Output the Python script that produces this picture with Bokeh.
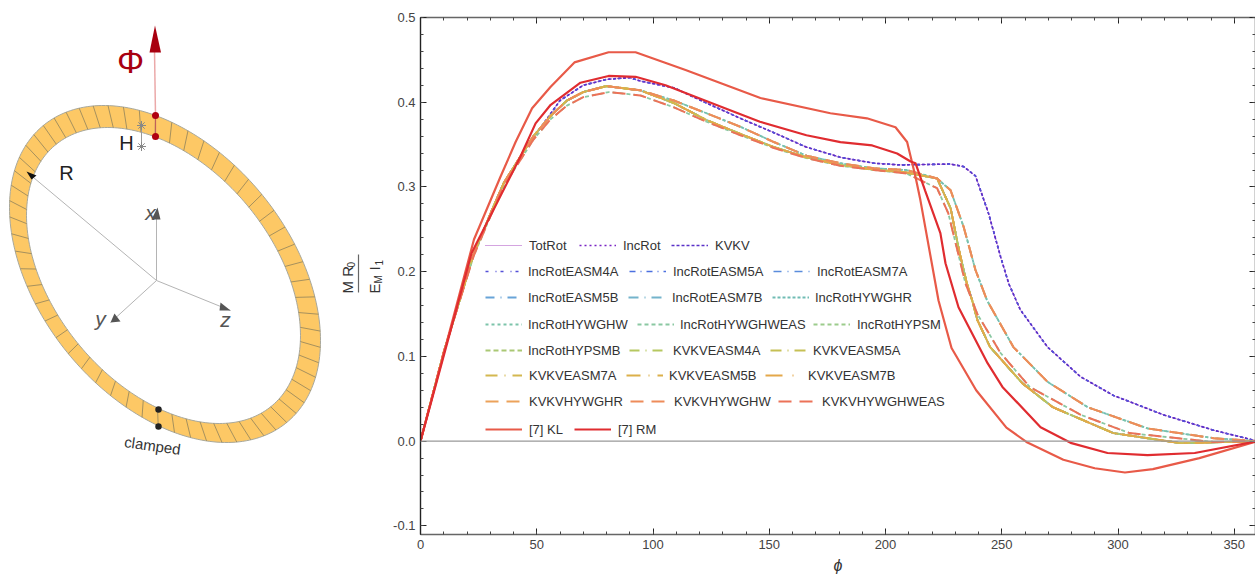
import numpy as np
from bokeh.plotting import figure
from bokeh.layouts import row
from bokeh.embed import file_html
from bokeh.resources import INLINE
from bokeh.core.properties import value
from bokeh.models import (Range1d, LinearAxis, FixedTicker, NumeralTickFormatter, Span,
                          Legend, LegendItem)

# ---------- curve values ----------
phi_a = [0, 10, 22.8, 30.8, 35.8, 43, 44.5, 53, 60, 70, 80, 90, 94.6, 109, 123, 137.6, 152, 166, 180.6, 195, 206.5, 228,
         233.6, 238.7, 244.3, 249.5, 253, 258, 269.7, 283.9, 298, 319.6, 341, 360]
val_a = [0, 0.105, 0.22, 0.273, 0.3046, 0.336, 0.343, 0.375, 0.402, 0.42, 0.427, 0.429, 0.425, 0.417, 0.399, 0.381,
         0.364, 0.347, 0.335, 0.328, 0.326, 0.327, 0.324, 0.313, 0.269, 0.2176, 0.186, 0.155, 0.111, 0.076, 0.054,
         0.031, 0.013, 0]

phi_c = [0, 10, 22.8, 30.8, 35.8, 43, 48.6, 56, 63, 70, 80, 94.6, 109, 123, 137.6, 152, 166, 180.6, 195, 209, 222.2,
         228, 233.6, 238.7, 243.7, 255, 269.7, 287, 312.7, 341, 360]
val_c = [0, 0.105, 0.22, 0.273, 0.3046, 0.336, 0.36, 0.384, 0.402, 0.412, 0.419, 0.414, 0.402, 0.387, 0.371, 0.353,
         0.337, 0.328, 0.322, 0.32, 0.31, 0.296, 0.253, 0.202, 0.166, 0.111, 0.07, 0.04, 0.015, 0.0035, 0]

phi_d = [0, 10, 22.8, 30.8, 35.8, 43, 48.6, 56, 63, 70, 81, 94.6, 109, 123, 137.6, 152, 166, 180.6, 195, 209, 222.2,
         227, 231.6, 234.4, 237.3, 239.5, 249.5, 262, 284, 305, 341, 360]
val_d = [0, 0.105, 0.218, 0.27, 0.301, 0.332, 0.356, 0.38, 0.396, 0.406, 0.412, 0.408, 0.394, 0.377, 0.361, 0.346,
         0.334, 0.325, 0.32, 0.316, 0.2985, 0.269, 0.2175, 0.186, 0.166, 0.15, 0.104, 0.064, 0.031, 0.0095, -0.001, 0]

phi_e = [0, 10, 22.8, 30.8, 35.8, 43, 48.6, 56, 63, 70, 80, 94.6, 109, 123, 137.6, 152, 166, 180.6, 195, 209, 222.2,
         228, 231.6, 235, 237.3, 239.5, 245, 259, 272, 298, 327, 360]
val_e = [0, 0.105, 0.22, 0.273, 0.3046, 0.336, 0.36, 0.384, 0.402, 0.412, 0.419, 0.414, 0.399, 0.379, 0.3625, 0.347,
         0.335, 0.326, 0.3205, 0.317, 0.31, 0.275, 0.2255, 0.186, 0.166, 0.143, 0.111, 0.068, 0.04, 0.0095, -0.0024, 0]

phi_kl = [0, 23, 34.4, 40.9, 48, 55.9, 66.2, 80.9, 92.5, 114, 146.2, 176.3, 192, 204.3, 209.3, 212.9, 215, 222.8, 228.4,
          239, 252, 260.6, 276.5, 290, 303, 315, 335, 360]
val_kl = [0, 0.238, 0.312, 0.353, 0.393, 0.418, 0.447, 0.459, 0.459, 0.438, 0.405, 0.387, 0.381, 0.3705, 0.353, 0.312,
          0.2845, 0.166, 0.11, 0.06, 0.016, -0.001, -0.022, -0.032, -0.037, -0.033, -0.02, 0]

phi_rm = [0, 22, 43, 49.5, 56, 68.8, 80.9, 92.5, 105.4, 129, 146, 166, 180.6, 194.3, 205, 210.8, 212.9, 217, 223.6,
          225.8, 231.4, 243.9, 250.3, 266.7, 279.6, 295.5, 312.7, 333, 360]
val_rm = [0, 0.222, 0.336, 0.375, 0.397, 0.423, 0.431, 0.43, 0.42, 0.395, 0.377, 0.361, 0.353, 0.349, 0.3395, 0.33,
          0.328, 0.296, 0.2455, 0.21, 0.158, 0.092, 0.064, 0.0165, -0.002, -0.014, -0.0165, -0.014, 0]

curves = {"a": (phi_a, val_a), "c": (phi_c, val_c), "d": (phi_d, val_d), "e": (phi_e, val_e),
          "kl": (phi_kl, val_kl), "rm": (phi_rm, val_rm)}

series_names = ["TotRot", "IncRot", "KVKV", "IncRotEASM4A", "IncRotEASM5A", "IncRotEASM7A", "IncRotEASM5B",
                "IncRotEASM7B", "IncRotHYWGHR", "IncRotHYWGHW", "IncRotHYWGHWEAS", "IncRotHYPSM", "IncRotHYPSMB",
                "KVKVEASM4A", "KVKVEASM5A", "KVKVEASM7A", "KVKVEASM5B", "KVKVEASM7B", "KVKVHYWGHR", "KVKVHYWGHW",
                "KVKVHYWGHWEAS", "[7] KL", "[7] RM"]
series_curve = ["a", "a", "a", "a", "e", "e", "e", "e", "c", "c", "d", "e", "e", "e", "e", "e", "e", "e", "c", "c", "d",
                "kl", "rm"]
series_color = ["#a848c0", "#7a24c4", "#5a30c8", "#5450d8", "#4c70e0", "#5a8cdc", "#68a4d8", "#74b4cc", "#70bcb4",
                "#7cc4aa", "#8ac8a2", "#9ccc8c", "#aac874", "#b6c860", "#c6c054", "#d4b850", "#dcb04a", "#e4a84a",
                "#eca25a", "#ee8c5a", "#ec7258", "#e85a48", "#e02c30"]
series_dash = ["1 1", "2 3", "3 2", "3 7 1 4", "6 5 1 5", "8 6 1 6", "9 6 1 6", "10 6 1 6", "3 2", "3 3",
               "4 3", "4 3", "5 3", "10 6 1 6", "11 6 1 6", "12 7 1 7", "14 8 1 8", "17 10 1 10", "13 8", "13 8",
               "13 8", "solid", "solid"]
series_width = [1, 1.5, 1.6, 1.6, 1.7, 1.7, 1.8, 1.8, 1.8, 1.8, 1.8, 1.8, 1.8, 1.9, 1.9, 1.9, 1.9, 1.9, 2, 2, 2,
                2.2, 2.2]

x_ticks_major = [0, 50, 100, 150, 200, 250, 300, 350]
x_ticks_minor = [v for v in range(0, 361, 10)]
y_ticks_major = [-0.1, 0.0, 0.1, 0.2, 0.3, 0.4, 0.5]
y_ticks_minor = [round(-0.1 + 0.02 * i, 2) for i in range(31)]

# legend rows: centre y of the row, then (sample start x, text start x) in page pixels
legend_rows = [
    (245, [(485, 529), (579, 623), (671, 715)]),
    (271, [(485, 528), (629, 673), (773, 817)]),
    (297, [(485, 528), (628, 672), (772, 815)]),
    (324, [(485, 528), (637, 680), (813, 857)]),
    (350, [(485, 528), (629, 673), (770, 813)]),
    (375, [(485, 529), (626, 669), (765, 808)]),
    (401, [(485, 529), (630, 674), (778, 822)]),
    (429, [(485, 529), (574, 618)]),
]

FONT = "Liberation Sans"
FRAME_L, FRAME_T, FRAME_B = 420, 17, 534
LEFT_W = 385
PAGE_W, PAGE_H = 1255, 574

# ---------- illustration: data coordinates equal page pixels; its frame lines up with the chart's ----------
d = figure(frame_width=LEFT_W, frame_height=FRAME_B - FRAME_T, x_range=Range1d(0, LEFT_W),
           y_range=Range1d(FRAME_B, FRAME_T), output_backend="svg", toolbar_location=None,
           min_border_left=0, min_border_right=0, min_border_top=FRAME_T, min_border_bottom=PAGE_H - FRAME_B)
d.axis.visible = False
d.grid.visible = False
d.outline_line_color = None


def ell(cx, cy, a, b, delta, t):
    return cx + a * np.cos(t), cy + b * np.sin(t + delta)


t_all = np.radians(np.linspace(0, 360, 241))
OUT = (164.5, 273.5, 155.5, 168.5, np.radians(23.3))
INN = (163, 275, 137, 148, np.radians(24))
ox, oy = ell(*OUT, t_all)
ix, iy = ell(*INN, t_all)
d.multi_polygons(xs=[[[list(ox), list(ix)]]], ys=[[[list(oy), list(iy)]]],
                 fill_color="#fdc865", line_color="#a8a89c", line_width=1)
t_seg = np.radians(-93.5 + 6 * np.arange(60))
sx0, sy0 = ell(*OUT, t_seg)
sx1, sy1 = ell(*INN, t_seg)
d.segment(sx0, sy0, sx1, sy1, line_color="#9c8a5c", line_width=0.9)

# axes in the drawing
AX = "#b4b4b4"
d.segment([156, 156, 156, 156], [280, 280, 280, 280], [156, 27, 110, 230], [210, 172, 322, 310], line_color=AX, line_width=1)
d.patches([[157, 151, 160], [26, 36, 31], [110, 120, 114], [230, 219, 220]],
          [[207, 219, 219], [171, 175, 179], [322, 321, 313], [310, 310, 302]],
          fill_color=["#555555", "#111111", "#555555", "#555555"], line_color=None)
# load arrow
d.segment([155], [115], [154], [50], line_color="#eba9a9", line_width=1.5)
d.patch([154.5, 149, 160.5], [25, 52, 52], fill_color="#a80010", line_color=None)
d.segment([155], [115], [155], [136], line_color="#c0605a", line_width=1.2)
d.scatter([155, 155], [115, 136], size=7, fill_color="#b00010", line_color=None)
d.scatter([158, 158], [409, 426], size=6.5, fill_color="#222222", line_color=None)
d.segment([141], [125], [141], [146], line_color="#999999", line_width=1)
d.scatter([141, 141], [125, 146], marker="asterisk", size=9, line_color="#888888", fill_color=None)


def dtext(x, y, s, size, color="#222222", style="normal", angle=0):
    d.text([x], [y], text=[s], text_font=value(FONT), text_font_size=size, text_color=color, text_align="center",
           text_baseline="middle", text_font_style=style, angle=angle)


dtext(130, 60, "Φ", "34px", "#a80010")
dtext(126, 142, "H", "20px", "#222222")
dtext(66, 172, "R", "20px", "#222222")
dtext(150, 212, "x", "21px", "#555555", "italic")
dtext(100, 318, "y", "21px", "#555555", "italic")
dtext(225, 319, "z", "21px", "#555555", "italic")
dtext(152, 445, "clamped", "15px", "#333333", "normal", -0.14)

# y-axis title, a fraction written sideways
d.segment([358], [254], [358], [292], line_color="#666666", line_width=1.2)


def ytext(x, y, s, size):
    d.text([x], [y], text=[s], text_font=value(FONT), text_font_size=size, text_color="#333333", text_align="left",
           text_baseline="middle", angle=np.pi / 2)


ytext(347, 293, "M R", "15px")
ytext(350, 267, "0", "10px")
ytext(374, 293, "E", "15px")
ytext(378, 283, "M", "10px")
ytext(374, 270, "I", "15px")
ytext(378, 265, "1", "10px")

# ---------- chart ----------
p = figure(frame_width=PAGE_W - FRAME_L, frame_height=FRAME_B - FRAME_T,
           x_range=Range1d(0, (PAGE_W - FRAME_L) / 2.325),
           y_range=Range1d(-0.1102, 0.5), output_backend="svg", toolbar_location=None,
           min_border_left=FRAME_L - LEFT_W, min_border_right=0, min_border_top=FRAME_T,
           min_border_bottom=PAGE_H - FRAME_B, x_axis_label="ϕ")
p.grid.visible = False
p.outline_line_color = None


def style(ax, major, minor, labelled, color, fmt=None):
    ax.ticker = FixedTicker(ticks=major, minor_ticks=minor)
    ax.axis_line_color = color
    ax.axis_line_width = 1.4
    ax.major_tick_line_color = "#222222"
    ax.minor_tick_line_color = "#444444"
    ax.major_tick_in = 6
    ax.major_tick_out = 0
    ax.minor_tick_in = 3
    ax.minor_tick_out = 0
    if labelled:
        ax.major_label_text_font = FONT
        ax.major_label_text_font_size = "13px"
        ax.major_label_text_color = "#444444"
        ax.major_label_standoff = 5
    else:
        ax.major_label_overrides = {t: "" for t in major}
        ax.major_label_standoff = 0
    if fmt:
        ax.formatter = fmt


style(p.xaxis[0], x_ticks_major, x_ticks_minor, True, "#666666")
style(p.yaxis[0], y_ticks_major, y_ticks_minor, True, "#222222", NumeralTickFormatter(format="0.0"))
p.xaxis[0].axis_label_text_font = FONT
p.xaxis[0].axis_label_text_font_size = "16px"
p.xaxis[0].axis_label_text_font_style = "italic"
p.xaxis[0].axis_label_text_color = "#333333"
p.xaxis[0].axis_label_standoff = 5
top = LinearAxis()
style(top, x_ticks_major, x_ticks_minor, False, "#666666")
p.add_layout(top, "above")
right = LinearAxis()
style(right, y_ticks_major, y_ticks_minor, False, "#222222")
p.add_layout(right, "right")

p.add_layout(Span(location=0, dimension="width", line_color="#999999", line_width=1.2))

renderers = []
for c, col, dash, w in zip(series_curve, series_color, series_dash, series_width):
    xs, ys = curves[c]
    renderers.append(p.line(xs, ys, line_color=col, line_dash=dash, line_width=w))

i = 0
for yc, cols in legend_rows:
    for lx, tx in cols:
        lg = Legend(items=[LegendItem(label=series_names[i], renderers=[renderers[i]])],
                    location=(lx - FRAME_L, FRAME_B - yc - 10), padding=0, margin=0, border_line_color=None,
                    background_fill_alpha=0, glyph_width=37, glyph_height=20, label_height=20,
                    label_standoff=tx - lx - 37, label_text_font=FONT, label_text_font_size="13px",
                    label_text_color="#333333")
        p.add_layout(lg, "center")
        i += 1

page = row(d, p, spacing=0)
open("out.html", "w").write(file_html(page, INLINE))
